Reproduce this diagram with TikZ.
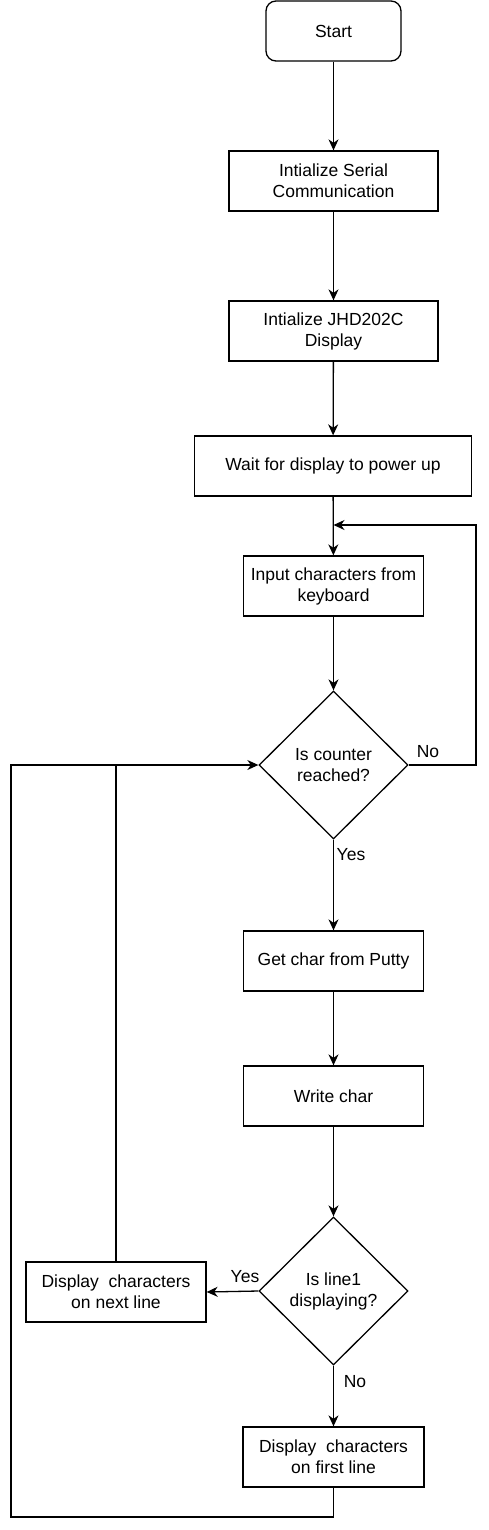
\documentclass[tikz,border=0pt]{standalone}
\usepackage{fontspec}
\setmainfont{Liberation Sans}
\usetikzlibrary{arrows.meta,shapes.geometric}
\begin{document}
\begin{tikzpicture}[x=1pt,y=-1pt,
  every node/.style={font=\fontsize{17.5}{21}\selectfont},
  procbox/.style={draw, line width=1.3pt, minimum height=60pt, inner sep=0pt, align=center},
  decbox/.style={draw, diamond, line width=1.3pt, minimum width=149pt, minimum height=148pt, inner sep=0pt, align=center},
  flow/.style={line width=1.3pt, -{Stealth[length=11pt,width=10pt,inset=3.5pt]}},
  plain/.style={line width=1.3pt},
  lbl/.style={inner sep=0pt}]
\useasboundingbox (0,0) rectangle (489,1530);
\fill[white] (0,0) rectangle (489,1530);
\node[procbox, rounded corners=10pt, minimum width=135pt] (start) at (333.5,31) {Start};
\node[procbox, minimum width=209pt] (b2) at (333.5,181) {Intialize Serial\\Communication};
\node[procbox, minimum width=209pt] (b3) at (333.5,331) {Intialize JHD202C\\Display};
\node[procbox, minimum width=277pt] (b4) at (333,466) {Wait for display to power up};
\node[procbox, minimum width=180pt] (b5) at (333.5,586) {Input characters from\\keyboard};
\node[decbox] (d1) at (333.5,765) {Is counter\\reached?};
\node[procbox, minimum width=180pt] (b6) at (333.5,961) {Get char from Putty};
\node[procbox, minimum width=180pt] (b7) at (333.5,1096) {Write char};
\node[decbox] (d2) at (333.5,1291) {Is line1\\displaying?};
\node[procbox, minimum width=180pt] (b8) at (116,1292) {Display\ \ characters\\on next line};
\node[procbox, minimum width=181pt] (b9) at (333.5,1457) {Display\ \ characters\\on first line};
\coordinate (joinA) at (333.5,525);
\coordinate (rightA) at (476,765);
\coordinate (botL) at (11,1517);
\draw[flow] (start) -- (b2);
\draw[flow] (b2) -- (b3);
\draw[flow] (b3) -- (b4);
\draw[flow] (b4) -- (b5);
\draw[flow] (b5) -- (d1);
\draw[flow] (d1.east) -- (rightA) |- (joinA);
\draw[flow] (d1) -- (b6);
\draw[flow] (b6) -- (b7);
\draw[flow] (b7) -- (d2);
\draw[flow] (d2.west) -- (b8.east);
\draw[flow] (d2) -- (b9);
\draw[plain] (b8.north) -- (b8.north |- d1.west);
\draw[flow] (b9.south) |- (botL) |- (d1.west);
\node[lbl] (no1) at (428,752) {No};
\node[lbl] (yes1) at (351,855) {Yes};
\node[lbl] (yes2) at (245,1277) {Yes};
\node[lbl] (no2) at (355,1382) {No};
\end{tikzpicture}
\end{document}
